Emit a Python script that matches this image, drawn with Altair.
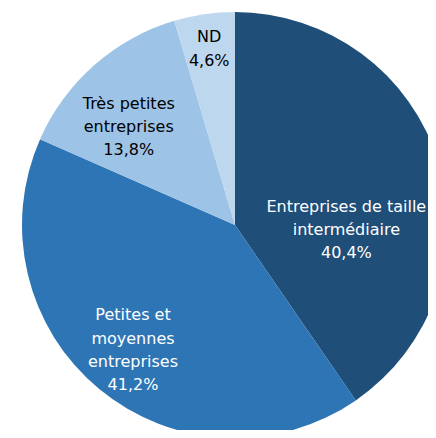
import altair as alt
import pandas as pd

categories = ["Entreprises de taille intermédiaire", "Petites et moyennes entreprises",
              "Très petites entreprises", "ND"]
labels = ["Entreprises de taille\nintermédiaire\n40,4%",
          "Petites et\nmoyennes\nentreprises\n41,2%",
          "Très petites\nentreprises\n13,8%",
          "ND\n4,6%"]
values = [40.4, 41.2, 13.8, 4.6]
colors = ["#1F4E79", "#2E75B6", "#9DC3E6", "#BDD7EE"]
text_colors = ["#FFFFFF", "#FFFFFF", "#000000", "#000000"]

df = pd.DataFrame({"cat": categories, "label": labels, "value": values,
                   "order": list(range(len(categories)))})

CX, CY, R = 227, 217, 213
TWO_PI = 6.283185307179586

base = alt.Chart(df)

pie = base.mark_arc(radius=R, strokeWidth=0).encode(
    theta=alt.Theta("value:Q", stack=True),
    order=alt.Order("order:Q"),
    color=alt.Color("cat:N", scale=alt.Scale(domain=categories, range=colors), legend=None),
    x=alt.value(CX), y=alt.value(CY),
)

# label placement: (radius, dx, dy) per slice
place = [(125, -8, 18.7), (160, 0, -33), (144, -11, -13.3), (179, 0, -10.5)]

stacked = base.transform_stack(
    stack="value", groupby=[], as_=["v0", "v1"], sort=[alt.SortField("order")]
).transform_calculate(mid="(datum.v0 + datum.v1) / 2")

layers = [pie]
for cat, tc, (r, dx, dy) in zip(categories, text_colors, place):
    layers.append(
        stacked.transform_filter(alt.datum.cat == cat).mark_text(
            font="DejaVu Sans", fontSize=16, lineHeight=23.3, lineBreak="\n",
            align="center", baseline="middle", color=tc, radius=r, dx=dx, dy=dy,
        ).encode(
            theta=alt.Theta("mid:Q", scale=alt.Scale(domain=[0, 100], range=[0, TWO_PI])),
            text="label:N",
            x=alt.value(CX), y=alt.value(CY),
        )
    )

chart = alt.layer(*layers).resolve_scale(theta="independent").properties(
    width=420, height=422, padding=0, autosize=alt.AutoSizeParams(type="none"),
).configure_view(strokeWidth=0)

chart.save("out.html", embed_options={"renderer": "svg", "actions": False})
